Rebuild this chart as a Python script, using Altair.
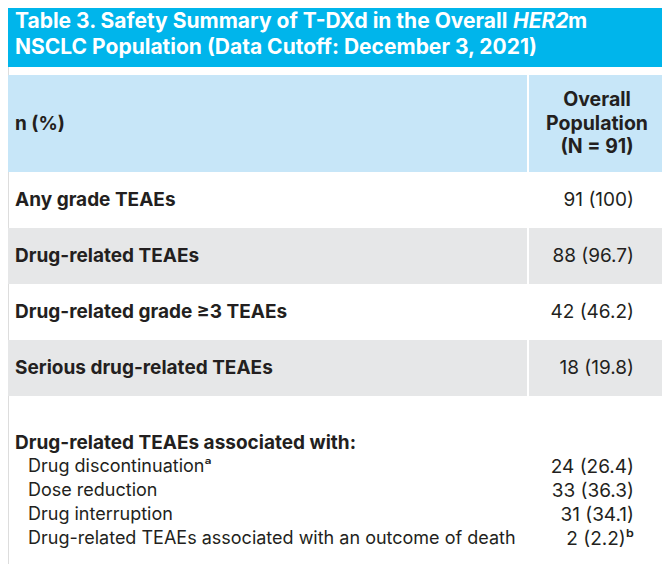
import altair as alt
import pandas as pd

# ---- content ----
title_line1 = "Table 3. Safety Summary of T-DXd in the Overall"
title_italic = "HER2"
title_after = "m"
title_line2 = "NSCLC Population (Data Cutoff: December 3, 2021)"
row_header = "n (%)"
col_header = ["Overall", "Population", "(N = 91)"]
main_rows = ["Any grade TEAEs", "Drug-related TEAEs", "Drug-related grade \u22653 TEAEs", "Serious drug-related TEAEs"]
main_values = ["91 (100)", "88 (96.7)", "42 (46.2)", "18 (19.8)"]
sub_heading = "Drug-related TEAEs associated with:"
sub_rows = ["Drug discontinuation", "Dose reduction", "Drug interruption",
            "Drug-related TEAEs associated with an outcome of death"]
sub_values = ["24 (26.4)", "33 (36.3)", "31 (34.1)", "2 (2.2)"]
sub_row_marks = ["a", "", "", ""]
sub_value_marks = ["", "", "", "b"]

# ---- layout (reference pixel space) ----
CYAN = "#00B5EB"
LIGHT = "#C7E6F8"
GRAY = "#E6E7E8"
TEXT = "#231F20"
FONT = "Inter"
LEFT, RIGHT, DIV = 0, 666, 528
COL_C, COL_R = 597, 634
HDR_TOP, HDR_BOT = 75, 172
ROW_H = 56

rects = [dict(x=LEFT, x2=RIGHT, y=1, y2=67, fill=CYAN),
         dict(x=LEFT, x2=DIV - 1, y=HDR_TOP, y2=HDR_BOT, fill=LIGHT),
         dict(x=DIV + 1, x2=RIGHT, y=HDR_TOP, y2=HDR_BOT, fill=LIGHT)]
for i in range(len(main_rows)):
    if i % 2 == 1:
        top = HDR_BOT + i * ROW_H
        rects.append(dict(x=LEFT, x2=DIV - 1, y=top, y2=top + ROW_H, fill=GRAY))
        rects.append(dict(x=DIV + 1, x2=RIGHT, y=top, y2=top + ROW_H, fill=GRAY))
rect_df = pd.DataFrame(rects)

W, H = 654, 556
xs = alt.Scale(domain=[8, 8 + W], range=[0, W], nice=False, zero=False)
ys = alt.Scale(domain=[8, 8 + H], range=[0, H], nice=False, zero=False)


def X(f="x"):
    return alt.X(f"{f}:Q", scale=xs, axis=None)


def Y(f="y"):
    return alt.Y(f"{f}:Q", scale=ys, axis=None)


bg = alt.Chart(rect_df).mark_rect().encode(
    x=X(), x2="x2:Q", y=Y(), y2="y2:Q", fill=alt.Fill("fill:N", scale=None))


def text_layer(df, align="left", weight="normal", size=17, color=TEXT, style="normal"):
    return alt.Chart(df).mark_text(align=align, baseline="middle", font=FONT,
                                   fontWeight=weight, fontSize=size, color=color,
                                   fontStyle=style).encode(
        x=X(), y=Y(), text="t:N")


title_df = pd.DataFrame([dict(x=15, y=22, t=title_line1), dict(x=15, y=48, t=title_line2)])
title_it = pd.DataFrame([dict(x=513, y=22, t=title_italic)])
title_m = pd.DataFrame([dict(x=568, y=22, t=title_after)])

bold_left = [dict(x=15, y=(HDR_TOP + HDR_BOT) / 2, t=row_header)]
for i, r in enumerate(main_rows):
    bold_left.append(dict(x=15, y=HDR_BOT + i * ROW_H + ROW_H / 2, t=r))
bold_left.append(dict(x=15, y=443, t=sub_heading))
bold_left_df = pd.DataFrame(bold_left)

hdr_df = pd.DataFrame([dict(x=COL_C, y=100 + 23.5 * i, t=s) for i, s in enumerate(col_header)])

val_df = pd.DataFrame([dict(x=COL_R, y=HDR_BOT + i * ROW_H + ROW_H / 2, t=v)
                       for i, v in enumerate(main_values)])

sub_df = pd.DataFrame([dict(x=28, y=467 + 24 * i, t=s + ("\u1d43" if m == "a" else ""))
                       for i, (s, m) in enumerate(zip(sub_rows, sub_row_marks))])
subval_df = pd.DataFrame([dict(x=COL_R, y=467 + 24 * i, t=v + ("\u1d47" if m == "b" else ""))
                          for i, (v, m) in enumerate(zip(sub_values, sub_value_marks))])

chart = alt.layer(
    bg,
    text_layer(title_df, weight="bold", size=21, color="white"),
    text_layer(title_it, weight="bold", size=21, color="white", style="italic"),
    text_layer(title_m, weight="bold", size=21, color="white"),
    text_layer(bold_left_df, weight="bold", size=19),
    text_layer(hdr_df, align="center", weight="bold", size=19.5),
    text_layer(val_df, align="right", size=19),
    text_layer(sub_df, size=18),
    text_layer(subval_df, align="right", size=19),
).properties(width=W, height=H, padding=0, autosize=alt.AutoSizeParams(type="none")
).configure_view(stroke=None).configure(background="white")

chart.save("out.html", embed_options={"renderer": "svg", "actions": False})
